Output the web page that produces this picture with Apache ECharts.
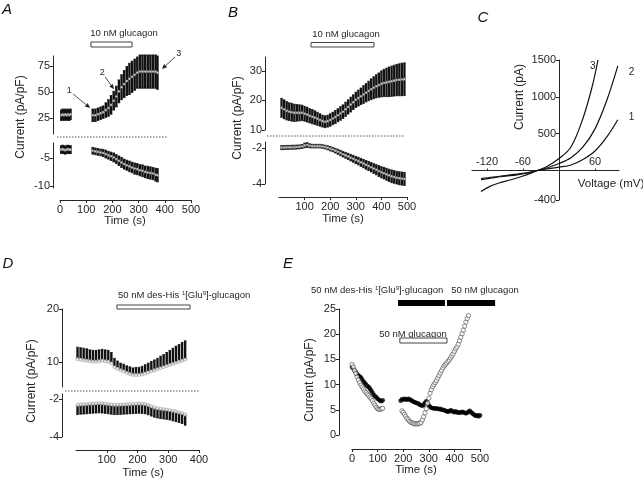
<!DOCTYPE html>
<html>
<head>
<meta charset="utf-8">
<script src="https://cdn.jsdelivr.net/npm/echarts@6/dist/echarts.min.js"></script>
<style>
  html, body { margin: 0; background: #fff; }
  #chart { width: 643px; height: 481px; }
</style>
</head>
<body>
<div id="chart"></div>
<script>
// ---- Panel A: 10 nM glucagon, mean ± SEM (outward above, inward below)
const aTime = [5, 10, 15, 20, 25, 30, 35, 40,
  125, 135, 145, 155, 165, 175, 185, 195, 205, 215, 225, 235, 245, 255, 265,
  275, 285, 295, 305, 315, 325, 335, 345, 355, 365, 372]
const aOut = [28, 29, 28, 29, 28, 29, 28, 29,
  28, 28, 29, 30, 31, 33, 35, 38, 42, 46, 51, 55, 58, 61, 63,
  65, 67, 69, 70, 70, 70, 70, 70, 70, 70, 69]
const aOutErr = [5, 5, 5, 5, 5, 5, 5, 5,
  6, 6, 6, 6, 6, 7, 8, 9, 9, 10, 11, 12, 13, 14, 15,
  15, 15, 15, 16, 16, 16, 16, 16, 16, 16, 16]
const aIn = [-3.5, -3.4, -3.5, -3.6, -3.5, -3.4, -3.5, -3.5,
  -3.7, -3.8, -3.9, -4.0, -4.1, -4.3, -4.5, -4.7, -4.9, -5.2, -5.5, -5.8, -6.1, -6.3, -6.5,
  -6.7, -6.9, -7.0, -7.2, -7.3, -7.5, -7.6, -7.7, -7.8, -8.0, -8.1]
const aInErr = [0.7, 0.7, 0.7, 0.7, 0.7, 0.7, 0.7, 0.7,
  0.6, 0.6, 0.6, 0.6, 0.65, 0.7, 0.7, 0.75, 0.8, 0.8, 0.85, 0.9, 0.9, 0.9, 0.95,
  0.95, 1.0, 1.0, 1.0, 1.05, 1.05, 1.1, 1.1, 1.1, 1.15, 1.2]
const aDrug = [118, 275]
// arrows: [tailTime, tailValue, headTime, headValue]
const aArrows = [[50, 48.5, 115, 35], [172, 65, 206, 53], [439, 84, 389, 72.5]]
const aArrowLabels = ['1', '2', '3']

// ---- Panel B: 10 nM glucagon
const bTime = [10, 20, 30, 40, 50, 60, 70, 80, 90, 100,
  110, 120, 130, 140, 150, 160, 170, 180, 190, 200,
  210, 220, 230, 240, 250, 260, 270, 280, 290, 300,
  310, 320, 330, 340, 350, 360, 370, 380, 390, 400,
  410, 420, 430, 440, 450, 460, 470, 480, 490]
const bOut = [17.5, 17, 16.5, 16.2, 16, 15.8, 15.8, 15.8, 15.8, 15.5,
  15.2, 14.8, 14.5, 14.2, 13.8, 13.4, 13, 12.8, 13, 13.4,
  13.9, 14.4, 15, 15.6, 16.2, 17, 17.8, 18.6, 19.4, 20.2,
  20.8, 21.4, 22, 22.6, 23.2, 23.8, 24.3, 24.8, 25.2, 25.6,
  25.9, 26.1, 26.3, 26.5, 26.7, 26.9, 27, 27.1, 27.2]
const bOutErr = [3.2, 3.2, 3.1, 3, 3, 2.9, 2.8, 2.7, 2.6, 2.5,
  2.5, 2.4, 2.4, 2.3, 2.2, 2.1, 2, 2, 2, 2.1,
  2.1, 2.2, 2.2, 2.3, 2.3, 2.4, 2.4, 2.5, 2.5, 2.6,
  2.7, 2.8, 3, 3.1, 3.3, 3.5, 3.7, 3.9, 4.1, 4.4,
  4.6, 4.8, 5, 5.1, 5.2, 5.3, 5.4, 5.5, 5.5]
const bIn = [-1.98, -1.98, -1.97, -1.97, -1.96, -1.96, -1.95, -1.94, -1.92, -1.86,
  -1.84, -1.88, -1.9, -1.9, -1.9, -1.9, -1.92, -1.95, -1.99, -2.04,
  -2.09, -2.15, -2.21, -2.28, -2.35, -2.41, -2.47, -2.54, -2.6, -2.67,
  -2.73, -2.8, -2.87, -2.94, -3.0, -3.07, -3.14, -3.21, -3.28, -3.35,
  -3.4, -3.46, -3.52, -3.57, -3.61, -3.65, -3.68, -3.7, -3.72]
const bInErr = [0.11, 0.11, 0.11, 0.11, 0.11, 0.11, 0.11, 0.11, 0.11, 0.13,
  0.13, 0.11, 0.1, 0.1, 0.1, 0.1, 0.1, 0.1, 0.11, 0.12,
  0.12, 0.13, 0.14, 0.15, 0.15, 0.16, 0.17, 0.18, 0.19, 0.2,
  0.21, 0.22, 0.23, 0.24, 0.25, 0.26, 0.27, 0.28, 0.3, 0.31,
  0.32, 0.33, 0.34, 0.35, 0.35, 0.35, 0.36, 0.36, 0.36]
const bDrug = [125, 371]

// ---- Panel C: I-V curves at the times marked 1, 2, 3
const cVolt12 = [-130, -110, -90, -70, -50, -36, -20, 0, 20, 40, 60, 80, 98]
const cCur1 = [-125, -100, -78, -58, -30, 0, 22, 45, 75, 150, 265, 460, 690]
const cCur2 = [-110, -88, -70, -50, -26, 0, 35, 95, 175, 320, 565, 960, 1420]
const cVolt3 = [-130, -115, -100, -80, -60, -45, -36, -20, 0, 20, 40, 55, 65]
const cCur3 = [-285, -215, -170, -125, -75, -30, 0, 55, 163, 320, 710, 1130, 1500]

// ---- Panel D: 50 nM des-His1[Glu9]-glucagon (one-sided SEM)
const dTime = [5, 15, 25, 35, 45, 55, 65, 75, 85, 95,
  105, 115, 125, 135, 145, 155, 165, 175, 185, 195,
  205, 215, 225, 235, 245, 255, 265, 275, 285, 295,
  305, 315, 325, 335, 345, 355]
const dOut = [10.6, 10.5, 10.4, 10.3, 10.2, 10.1, 10.1, 10.2, 10.3, 10.2,
  10.1, 9.8, 9.1, 8.8, 8.5, 8.3, 8.0, 7.8, 7.6, 7.6,
  7.6, 7.7, 7.9, 8.1, 8.3, 8.5, 8.7, 8.9, 9.1, 9.3,
  9.5, 9.7, 9.9, 10.1, 10.3, 10.5]
const dOutErr = [2.2, 2.2, 2.2, 2.2, 2.1, 2.1, 2.1, 2.1, 2.1, 2.1,
  2.1, 2.0, 1.6, 1.4, 1.3, 1.3, 1.3, 1.3, 1.3, 1.4,
  1.4, 1.5, 1.6, 1.7, 1.8, 1.9, 2.0, 2.2, 2.3, 2.5,
  2.7, 2.9, 3.1, 3.2, 3.4, 3.5]
const dIn = [-2.32, -2.3, -2.29, -2.28, -2.26, -2.25, -2.24, -2.23, -2.24, -2.26,
  -2.28, -2.3, -2.32, -2.32, -2.31, -2.3, -2.29, -2.28, -2.27, -2.26,
  -2.25, -2.26, -2.28, -2.33, -2.4, -2.46, -2.5, -2.53, -2.55, -2.57,
  -2.6, -2.63, -2.67, -2.71, -2.75, -2.83]
const dInErr = [0.5, 0.5, 0.5, 0.5, 0.5, 0.5, 0.5, 0.5, 0.5, 0.5,
  0.5, 0.5, 0.5, 0.5, 0.5, 0.5, 0.5, 0.5, 0.5, 0.5,
  0.5, 0.5, 0.5, 0.5, 0.5, 0.5, 0.5, 0.5, 0.5, 0.5,
  0.5, 0.52, 0.52, 0.53, 0.54, 0.55]
const dDrug = [133, 371]

// ---- Panel E: single cells
const eTimeFilled = [0, 5, 10, 15, 20, 25, 30, 35, 40, 45, 50, 55, 60, 65, 70, 75, 80, 85, 90, 95, 100, 105, 110, 115, 120,
  190, 195, 200, 205, 210, 215, 220, 225, 230, 235, 240, 245, 250, 255, 260, 265, 270, 275, 280, 285,
  290, 295, 300, 305, 310, 315, 320, 325, 330, 335, 340, 345, 350, 355, 360, 365, 370, 375, 380, 385,
  390, 395, 400, 405, 410, 415, 420, 425, 430, 435, 440, 445, 450, 455, 460, 465, 470, 475, 480, 485,
  490, 495, 500]
const eFilled = [13.5, 13.2, 12.8, 12.5, 12.1, 11.8, 11.6, 11.4, 11.0, 10.6, 10.3, 10.0, 9.7, 9.5, 9.2, 8.8, 8.4, 8.0, 7.7, 7.5, 7.2, 7.0, 6.8, 6.7, 6.9,
  6.8, 7.1, 7.0, 7.2, 7.1, 7.0, 7.2, 7.1, 6.9, 6.8, 6.6, 6.5, 6.4, 6.3, 6.2, 6.0, 5.9, 5.8, 6.0, 6.4,
  6.7, 6.4, 5.9, 5.6, 5.4, 5.3, 5.3, 5.2, 5.3, 5.2, 5.1, 5.2, 5.0, 5.0, 4.9, 4.8, 4.7, 4.6, 4.7, 4.9,
  4.8, 4.6, 4.5, 4.7, 4.5, 4.4, 4.5, 4.4, 4.6, 4.5, 4.4, 4.3, 4.4, 4.6, 4.8, 4.5, 4.3, 4.1, 3.9, 3.8,
  3.9, 3.7, 3.9]
const eTimeOpen = [0, 5, 10, 15, 20, 25, 30, 35, 40, 45, 50, 55, 60, 65, 70, 75, 80, 85, 90, 95, 100, 105, 110, 115, 120,
  195, 200, 205, 210, 215, 220, 225, 230, 235, 240, 245, 250, 255, 260, 265, 270, 275, 280, 285, 290,
  295, 300, 305, 310, 315, 320, 325, 330, 335, 340, 345, 350, 355, 360, 365, 370, 375, 380, 385, 390,
  395, 400, 405, 410, 415, 420, 425, 430, 435, 440, 445, 450, 455]
const eOpen = [14.0, 13.5, 12.8, 12.2, 11.5, 10.9, 10.4, 9.9, 9.5, 9.1, 8.7, 8.4, 8.1, 7.8, 7.5, 7.2, 6.8, 6.3, 5.9, 5.5, 5.2, 5.1, 5.1, 5.2, 5.3,
  4.8, 4.5, 4.1, 3.7, 3.3, 3.0, 2.7, 2.5, 2.4, 2.3, 2.2, 2.2, 2.2, 2.3, 2.3, 2.5, 3.0, 3.6, 4.4, 5.2,
  6.3, 7.3, 8.3, 9.0, 9.6, 10.0, 10.4, 10.8, 11.3, 11.8, 12.3, 12.8, 13.3, 13.7, 14.0, 14.3, 14.6, 14.9, 15.3, 15.7,
  16.1, 16.6, 17.1, 17.5, 18.0, 18.7, 19.4, 20.1, 20.8, 21.6, 22.4, 23.1, 23.7]
const eDesHis = [180, 363]
const eGlucagon = [371, 559]
const eGlucagonOnly = [187, 371]

const FONT = '"Liberation Sans", Arial, Helvetica, sans-serif'
const INK = '#262626'
const plain = (v) => String(v)

const grid = (left, top, width, height) => ({ left, top, width, height, outerBoundsMode: 'none' })

const yAxis = (gridIndex, min, max, ticks, offset) => ({
  type: 'value', gridIndex, min, max, offset,
  axisLine: { show: true, onZero: false, lineStyle: { color: INK, width: 1 } },
  axisTick: { show: true, length: 3, customValues: ticks, lineStyle: { color: INK } },
  axisLabel: { customValues: ticks, formatter: plain, fontSize: 11, fontFamily: FONT, color: INK, margin: 3 },
  splitLine: { show: false },
})

const xAxis = (gridIndex, min, max, ticks, offset) => ({
  type: 'value', gridIndex, min, max, offset,
  axisLine: { show: true, onZero: false, lineStyle: { color: INK, width: 1 } },
  axisTick: { show: true, length: 3, customValues: ticks, lineStyle: { color: INK } },
  axisLabel: { customValues: ticks, formatter: plain, fontSize: 11, fontFamily: FONT, color: INK, margin: 4 },
  splitLine: { show: false },
})

const hiddenX = (gridIndex, min, max) => ({ type: 'value', gridIndex, min, max, show: false })

// vertical SEM bars; mode 'both', 'up' or 'down'
const errorBars = (idx, times, means, errs, mode, width) => ({
  type: 'custom', xAxisIndex: idx, yAxisIndex: idx, clip: false, z: 2,
  data: times.map((t, i) => [t, means[i], errs[i]]),
  renderItem: (params, api) => {
    const t = api.value(0), m = api.value(1), e = api.value(2)
    const hi = mode === 'down' ? m : m + e
    const lo = mode === 'up' ? m : m - e
    const a = api.coord([t, hi]), b = api.coord([t, lo])
    const cap = (p) => ({ type: 'line', shape: { x1: p[0] - 1.3, y1: p[1], x2: p[0] + 1.3, y2: p[1] }, style: { stroke: '#111', lineWidth: 0.8 } })
    const kids = [{ type: 'line', shape: { x1: a[0], y1: a[1], x2: b[0], y2: b[1] }, style: { stroke: '#111', lineWidth: width } }]
    if (mode !== 'down') kids.push(cap(a))
    if (mode !== 'up') kids.push(cap(b))
    return { type: 'group', children: kids }
  },
})

const means = (idx, times, vals, size) => ({
  type: 'scatter', xAxisIndex: idx, yAxisIndex: idx, z: 3, symbol: 'circle', symbolSize: size || 2.6,
  data: times.map((t, i) => [t, vals[i]]),
  itemStyle: { color: '#f4f4f4', borderColor: '#333', borderWidth: 0.4 },
  emphasis: { disabled: true },
})

// application bar drawn above (or inside) the grid, from an interval in seconds
const drugBar = (idx, interval, gapAboveTop, height, filled) => ({
  type: 'custom', xAxisIndex: idx, yAxisIndex: idx, clip: false, z: 4,
  data: [[interval[0], interval[1]]],
  encode: { x: [0, 1] },
  renderItem: (params, api) => {
    const x1 = api.coord([api.value(0), 0])[0]
    const x2 = api.coord([api.value(1), 0])[0]
    const yBottom = params.coordSys.y - gapAboveTop
    return {
      type: 'rect',
      shape: { x: x1, y: yBottom - height, width: x2 - x1, height },
      style: filled ? { fill: '#000' } : { fill: '#fff', stroke: '#444', lineWidth: 1 },
    }
  },
})

const arrows = {
  type: 'custom', xAxisIndex: 0, yAxisIndex: 0, clip: false, z: 5,
  data: aArrows.map((a, i) => [a[0], a[1], a[2], a[3], i]),
  encode: { x: [0, 2], y: [1, 3] },
  renderItem: (params, api) => {
    const p1 = api.coord([api.value(0), api.value(1)])
    const p2 = api.coord([api.value(2), api.value(3)])
    const dx = p2[0] - p1[0], dy = p2[1] - p1[1]
    const len = Math.hypot(dx, dy), ux = dx / len, uy = dy / len
    const hx = p2[0] - ux * 5, hy = p2[1] - uy * 5
    return {
      type: 'group',
      children: [
        { type: 'line', shape: { x1: p1[0], y1: p1[1], x2: hx, y2: hy }, style: { stroke: '#222', lineWidth: 0.8 } },
        { type: 'polygon', shape: { points: [p2, [hx - uy * 2.2, hy + ux * 2.2], [hx + uy * 2.2, hy - ux * 2.2]] }, style: { fill: '#222' } },
        { type: 'text', x: p1[0] - ux * 5, y: p1[1] - uy * 5,
          style: { text: aArrowLabels[api.value(4)], font: '9px ' + FONT, fill: INK, align: 'center', verticalAlign: 'middle' } },
      ],
    }
  },
}

const ivCurve = (volts, cur, label, offset) => ({
  type: 'line', xAxisIndex: 4, yAxisIndex: 4, smooth: 0.35, symbol: 'none',
  data: volts.map((v, i) => [v, cur[i]]),
  lineStyle: { color: '#111', width: 1.2 },
  endLabel: { show: true, formatter: label, offset, fontSize: 10, fontFamily: FONT, color: INK },
  emphasis: { disabled: true },
})

const txt = (x, y, text, size, extra) => Object.assign({
  type: 'text', x, y,
  style: { text, font: size + 'px ' + FONT, fill: INK, textAlign: 'center', textVerticalAlign: 'middle' },
}, extra || {})
const vtxt = (x, y, text, size) => txt(x, y, text, size, { rotation: Math.PI / 2 })
const letter = (x, y, text) => ({
  type: 'text', x, y,
  style: { text, font: 'italic 15px ' + FONT, fill: '#111', textAlign: 'center', textVerticalAlign: 'middle' },
})
const richTxt = (x, y) => ({
  type: 'text', x, y,
  style: {
    text: '50 nM des-His {s|1}[Glu{s|9}]-glucagon',
    font: '9.5px ' + FONT, fill: INK, textAlign: 'left', textVerticalAlign: 'middle',
    rich: { s: { fontSize: 6, fontFamily: FONT, fill: INK, verticalAlign: 'top', lineHeight: 10 } },
  },
})
const dashed = (x1, x2, y) => ({
  type: 'line', shape: { x1, y1: y, x2, y2: y },
  style: { stroke: '#555', lineWidth: 1, lineDash: [1.5, 1.5] },
})

const chart = echarts.init(document.getElementById('chart'), null, { renderer: 'canvas' })

chart.setOption({
  animation: false,
  backgroundColor: '#fff',
  grid: [
    grid(60, 56, 131, 78), grid(60, 143, 131, 45),
    grid(279, 57, 128, 73), grid(279, 142, 128, 42),
    grid(472, 60, 147, 140),
    grid(76, 309, 123, 78), grid(76, 394, 123, 43),
    grid(352, 309, 128, 126),
  ],
  xAxis: [
    hiddenX(0, 0, 500), xAxis(1, 0, 500, [0, 100, 200, 300, 400, 500], 12),
    hiddenX(2, 0, 500), xAxis(3, 0, 500, [100, 200, 300, 400, 500], 13),
    // I-V axes cross at the origin: moved inward from the grid edges
    Object.assign(xAxis(4, -145, 100, [-120, -60, 60], -110.5), {
      position: 'top',
      axisTick: { show: true, length: 2, customValues: [-120, -60, 60], lineStyle: { color: INK } },
      axisLabel: { customValues: [-120, -60, 60], formatter: plain, fontSize: 11, fontFamily: FONT, color: INK, margin: 3 },
    }),
    hiddenX(5, 0, 400), xAxis(6, 0, 400, [100, 200, 300, 400], 13),
    xAxis(7, 0, 500, [0, 100, 200, 300, 400, 500], 14),
  ],
  yAxis: [
    yAxis(0, 10, 85, [25, 50, 75], 7), yAxis(1, -10.4, -2.3, [-10, -5], 7),
    yAxis(2, 10, 34.7, [10, 20, 30], 14), yAxis(3, -4, -1.67, [-4, -2], 14),
    yAxis(4, -400, 1500, [-400, 500, 1000, 1500], -87),
    yAxis(5, 5.3, 20, [10, 20], 14), yAxis(6, -4, -1.74, [-4, -2], 14),
    yAxis(7, 0, 25, [0, 5, 10, 15, 20, 25], 13),
  ],
  series: [
    errorBars(0, aTime, aOut, aOutErr, 'both', 2.4), means(0, aTime, aOut),
    errorBars(1, aTime, aIn, aInErr, 'both', 2.4), means(1, aTime, aIn),
    drugBar(0, aDrug, 9, 5, false), arrows,
    errorBars(2, bTime, bOut, bOutErr, 'both', 2.3), means(2, bTime, bOut),
    errorBars(3, bTime, bIn, bInErr, 'both', 2.3), means(3, bTime, bIn),
    drugBar(2, bDrug, 10, 4.5, false),
    ivCurve(cVolt12, cCur1, '1', [3, -2]),
    ivCurve(cVolt12, cCur2, '2', [3, 6]),
    ivCurve(cVolt3, cCur3, '3', [-16, 6]),
    errorBars(5, dTime, dOut, dOutErr, 'up', 2.4), means(5, dTime, dOut, 3.4),
    errorBars(6, dTime, dIn, dInErr, 'down', 2.4), means(6, dTime, dIn, 3.4),
    drugBar(5, dDrug, 0, 4, false),
    {
      type: 'scatter', xAxisIndex: 7, yAxisIndex: 7, symbol: 'circle', symbolSize: 4.6, z: 3,
      data: eTimeFilled.map((t, i) => [t, eFilled[i]]),
      itemStyle: { color: '#000' }, emphasis: { disabled: true },
    },
    {
      type: 'scatter', xAxisIndex: 7, yAxisIndex: 7, symbol: 'circle', symbolSize: 4.3, z: 4,
      data: eTimeOpen.map((t, i) => [t, eOpen[i]]),
      itemStyle: { color: '#fff', borderColor: '#333', borderWidth: 0.7 }, emphasis: { disabled: true },
    },
    drugBar(7, eDesHis, 3, 6, true),
    drugBar(7, eGlucagon, 3, 6, true),
    drugBar(7, eGlucagonOnly, -34, 5, false),
  ],
  graphic: [
    letter(7, 10, 'A'), letter(233, 13, 'B'), letter(483, 18, 'C'), letter(8, 264, 'D'), letter(288, 264, 'E'),
    txt(124, 33, '10 nM glucagon', 9.5), txt(346, 34, '10 nM glucagon', 9.5),
    richTxt(118, 295), richTxt(311, 290),
    txt(485, 290, '50 nM glucagon', 9.5), txt(413, 334, '50 nM glucagon', 9.5),
    vtxt(21, 117, 'Current (pA/pF)', 12), txt(125, 221, 'Time (s)', 11.5),
    vtxt(238, 118, 'Current (pA/pF)', 12), txt(343, 219, 'Time (s)', 11.5),
    vtxt(520, 97, 'Current (pA)', 12), txt(611, 184, 'Voltage (mV)', 11.5),
    vtxt(32, 381, 'Current (pA/pF)', 12), txt(143, 473, 'Time (s)', 11.5),
    vtxt(310, 380, 'Current (pA/pF)', 12), txt(416, 470, 'Time (s)', 11.5),
    dashed(57, 167, 137), dashed(267, 405, 136), dashed(65, 200, 391),
  ],
})
</script>
</body>
</html>
